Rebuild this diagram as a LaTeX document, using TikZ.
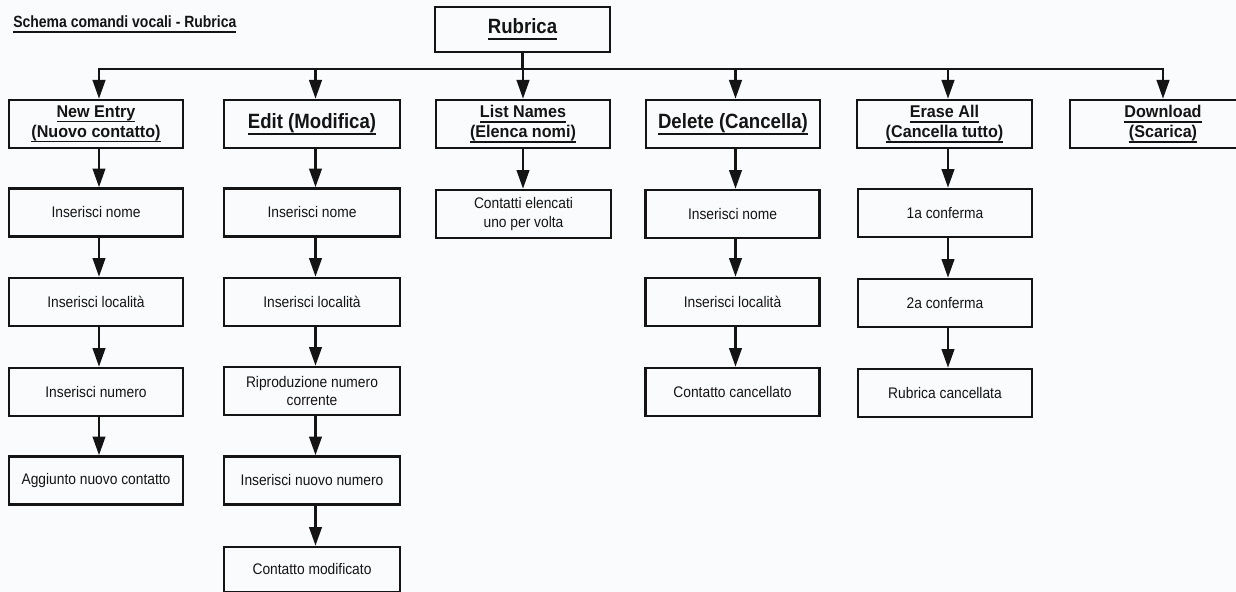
\documentclass[tikz,border=0pt]{standalone}
\usepackage{fontspec}
\setmainfont{Liberation Sans}
\newfontfamily\titlefont[FakeStretch=0.86]{Liberation Sans}
\newfontfamily\headfont[FakeStretch=0.9]{Liberation Sans}
\newfontfamily\pairfont[FakeStretch=0.95]{Liberation Sans}
\newfontfamily\stepfont[FakeStretch=0.9]{Liberation Sans}
\usetikzlibrary{arrows.meta}

% underline that follows the width of its text
\newcommand\ulbar[1]{\setbox0=\hbox{#1}\rlap{\rule[-0.3em]{\wd0}{0.085em}}\box0}

\definecolor{paper}{RGB}{250,251,253}
\definecolor{ink}{RGB}{20,20,20}

\tikzset{
  frame/.style={draw=ink, line width=2pt, rectangle, inner sep=0pt, align=center, text=ink},
  rootbox/.style={frame, minimum width=131.25pt, minimum height=33.75pt,
    font=\headfont\bfseries\fontsize{15.5}{18}\selectfont},
  headone/.style={frame, minimum width=130.5pt, minimum height=36pt,
    font=\headfont\bfseries\fontsize{15.5}{18}\selectfont},
  headtwo/.style={frame, minimum width=130.5pt, minimum height=36pt,
    font=\pairfont\bfseries\fontsize{12.75}{15}\selectfont},
  stepbox/.style={frame, minimum width=130.5pt, minimum height=36pt,
    font=\stepfont\fontsize{11.5}{14}\selectfont},
  link/.style={draw=ink, line width=1.6pt},
  arr/.style={link, -{Triangle[length=14pt,width=9.5pt]}},
}

\begin{document}
\begin{tikzpicture}[x=0.75pt,y=-0.75pt]
  \fill[paper] (0,0) rectangle (1236,592);
  \useasboundingbox (0,0) rectangle (1236,592);

  % title
  \node[anchor=base west, inner sep=0pt, text=ink] (title) at (13,28)
    {\titlefont\bfseries\fontsize{12.2}{14}\selectfont\ulbar{Schema comandi vocali - Rubrica}};

  % root
  \node[rootbox] (root) at (522.5,29.5) {\ulbar{Rubrica}};

  % branch points on the distribution bar
  \coordinate (tap1) at (99,69);
  \coordinate (tap2) at (315.5,69);
  \coordinate (tap3) at (523,69);
  \coordinate (tap4) at (735.5,69);
  \coordinate (tap5) at (948,69);
  \coordinate (tap6) at (1163,69);

  % command boxes
  \node[headtwo] (ne) at (96,124) {\ulbar{New Entry}\\\ulbar{(Nuovo contatto)}};
  \node[headone, minimum width=132pt] (ed) at (312,124) {\ulbar{Edit (Modifica)}};
  \node[headtwo] (ln) at (523,124) {\ulbar{List Names}\\\ulbar{(Elenca nomi)}};
  \node[headone] (de) at (733,124) {\ulbar{Delete (Cancella)}};
  \node[headtwo, minimum width=131.25pt] (ea) at (944.5,124) {\ulbar{Erase All}\\\ulbar{(Cancella tutto)}};
  \node[headtwo, minimum width=139.5pt] (dl) at (1163,124) {\ulbar{Download}\\\ulbar{(Scarica)}};

  % New Entry steps
  \node[stepbox] (n1a) at (96,212.5) {Inserisci nome};
  \node[stepbox] (n1b) at (96,302) {Inserisci località};
  \node[stepbox] (n1c) at (96,392) {Inserisci numero};
  \node[stepbox] (n1d) at (96,480.5) {Aggiunto nuovo contatto};

  % Edit steps
  \node[stepbox, minimum width=132pt] (e2a) at (312,212.5) {Inserisci nome};
  \node[stepbox, minimum width=132pt] (e2b) at (312,302) {Inserisci località};
  \node[stepbox, minimum width=132pt] (e2c) at (312,391) {Riproduzione numero\\corrente};
  \node[stepbox, minimum width=132pt] (e2d) at (312,480.5) {Inserisci nuovo numero};
  \node[stepbox, minimum width=132pt, minimum height=33.75pt] (e2e) at (312,569.5) {Contatto modificato};

  % List Names step
  \node[stepbox, minimum width=131.25pt] (l3a) at (523.5,214) {Contatti elencati\\uno per volta};

  % Delete steps
  \node[stepbox] (d4a) at (732.5,214) {Inserisci nome};
  \node[stepbox] (d4b) at (732.5,302) {Inserisci località};
  \node[stepbox] (d4c) at (732.5,392) {Contatto cancellato};

  % Erase All steps
  \node[stepbox] (r5a) at (945,213) {1a conferma};
  \node[stepbox] (r5b) at (945,303) {2a conferma};
  \node[stepbox] (r5c) at (945,393) {Rubrica cancellata};

  % distribution from the root
  \draw[link] (root.south) -- (root.south |- tap3);
  \draw[link, {Triangle[length=14pt,width=9.5pt]}-{Triangle[length=14pt,width=9.5pt]}]
    (tap1 |- ne.north) -- (tap1) -- (tap6) -- (tap6 |- dl.north);
  \draw[arr] (tap2) -- (tap2 |- ed.north);
  \draw[arr] (tap3) -- (tap3 |- ln.north);
  \draw[arr] (tap4) -- (tap4 |- de.north);
  \draw[arr] (tap5) -- (tap5 |- ea.north);

  % column chains
  \draw[arr] (ne.south -| tap1) -- (n1a.north -| tap1);
  \draw[arr] (n1a.south -| tap1) -- (n1b.north -| tap1);
  \draw[arr] (n1b.south -| tap1) -- (n1c.north -| tap1);
  \draw[arr] (n1c.south -| tap1) -- (n1d.north -| tap1);

  \draw[arr] (ed.south -| tap2) -- (e2a.north -| tap2);
  \draw[arr] (e2a.south -| tap2) -- (e2b.north -| tap2);
  \draw[arr] (e2b.south -| tap2) -- (e2c.north -| tap2);
  \draw[arr] (e2c.south -| tap2) -- (e2d.north -| tap2);
  \draw[arr] (e2d.south -| tap2) -- (e2e.north -| tap2);

  \draw[arr] (ln.south -| tap3) -- (l3a.north -| tap3);

  \draw[arr] (de.south -| tap4) -- (d4a.north -| tap4);
  \draw[arr] (d4a.south -| tap4) -- (d4b.north -| tap4);
  \draw[arr] (d4b.south -| tap4) -- (d4c.north -| tap4);

  \draw[arr] (ea.south -| tap5) -- (r5a.north -| tap5);
  \draw[arr] (r5a.south -| tap5) -- (r5b.north -| tap5);
  \draw[arr] (r5b.south -| tap5) -- (r5c.north -| tap5);
\end{tikzpicture}
\end{document}
